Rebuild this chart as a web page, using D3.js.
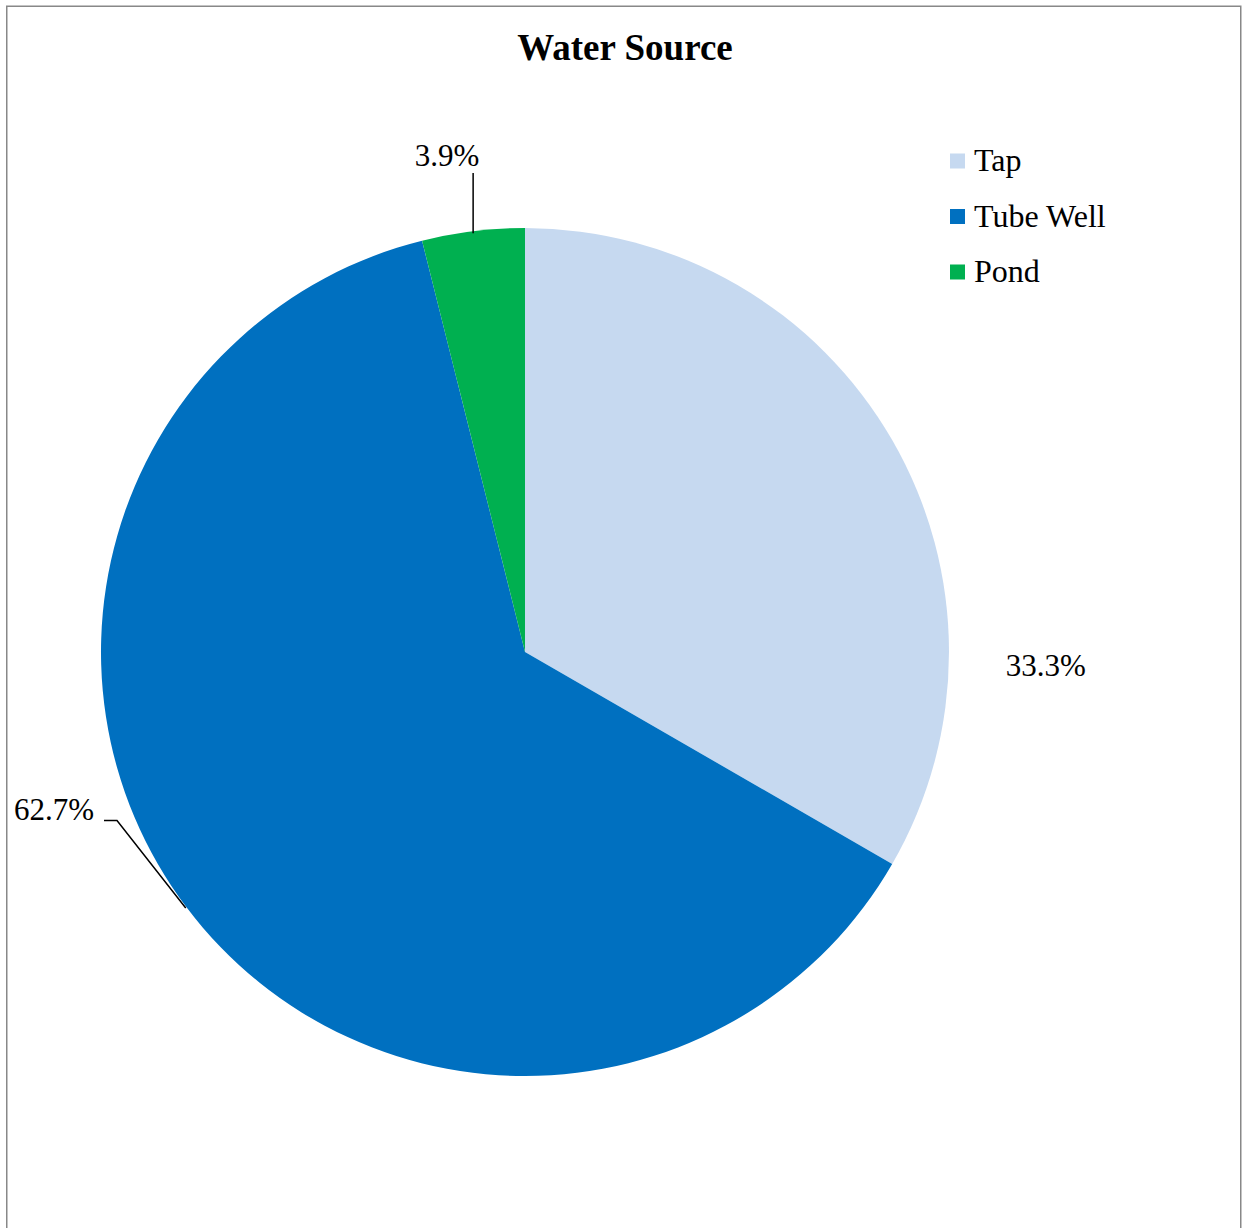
<!DOCTYPE html>
<html>
<head>
<meta charset="utf-8">
<script src="https://cdn.jsdelivr.net/npm/d3@7"></script>
<style>
  html, body { margin: 0; padding: 0; background: #fff; }
  svg { display: block; }
  text { font-family: "Liberation Serif", "Times New Roman", serif; fill: #000; }
</style>
</head>
<body>
<script>
// Water source shares (percent)
const categories = ["Tap", "Tube Well", "Pond"];
const shares = [33.3, 62.7, 3.9];
const colors = ["#c6d9f0", "#0070c0", "#00b050"];
const labels = ["33.3%", "62.7%", "3.9%"];

const W = 1248, H = 1228;
const cx = 525, cy = 652, R = 424;

const svg = d3.select("body").append("svg")
  .attr("width", W).attr("height", H);

// chart frame
svg.append("rect")
  .attr("x", 6.75).attr("y", 6.25)
  .attr("width", 1234).attr("height", 1240)
  .attr("fill", "#fff")
  .attr("stroke", "#888").attr("stroke-width", 1.5);

svg.append("text")
  .attr("x", 625).attr("y", 60)
  .attr("text-anchor", "middle")
  .style("font-size", "37px").style("font-weight", "bold")
  .text("Water Source");

const pie = d3.pie().sort(null).value(d => d);
const arcs = pie(shares);
const arc = d3.arc().innerRadius(0).outerRadius(R);

const g = svg.append("g").attr("transform", `translate(${cx},${cy})`);
g.selectAll("path").data(arcs).join("path")
  .attr("d", arc)
  .attr("fill", (d, i) => colors[i]);

// point on the rim at a given angle (clockwise from 12 o'clock)
const rim = (a, r) => [r * Math.sin(a), -r * Math.cos(a)];

const labelSize = "31px";

// Tap label: plain, outside the right edge of the slice
{
  const [x, y] = rim(Math.PI / 2 + 0.025, R + 97);
  g.append("text").attr("x", x).attr("y", y + 11)
    .attr("text-anchor", "middle").style("font-size", labelSize)
    .text(labels[0]);
}

// Tube Well label with a bent leader line
{
  const [ex, ey] = rim(4.066, R + 1);
  const p = [[ex, ey], [-408, 168.5], [-421, 168.5]];
  g.append("path")
    .attr("d", d3.line()(p))
    .attr("fill", "none").attr("stroke", "#000").attr("stroke-width", 1.5);
  g.append("text").attr("x", -431).attr("y", 168)
    .attr("text-anchor", "end").style("font-size", labelSize)
    .text(labels[1]);
}

// Pond label with a vertical leader line
{
  const a = (arcs[2].startAngle + arcs[2].endAngle) / 2;
  const [ex, ey] = rim(a, R);
  g.append("line")
    .attr("x1", ex).attr("y1", ey + 2)
    .attr("x2", ex).attr("y2", -479)
    .attr("stroke", "#000").attr("stroke-width", 1.5);
  g.append("text").attr("x", ex - 26).attr("y", -486)
    .attr("text-anchor", "middle").style("font-size", labelSize)
    .text(labels[2]);
}

// legend
const lg = svg.append("g").attr("transform", "translate(950,161)");
const items = lg.selectAll("g").data(categories).join("g")
  .attr("transform", (d, i) => `translate(0,${i * 55.5})`);
items.append("rect")
  .attr("x", 0).attr("y", -7.5).attr("width", 15).attr("height", 15)
  .attr("fill", (d, i) => colors[i]);
items.append("text")
  .attr("x", 24).attr("y", 10)
  .style("font-size", "32px")
  .text(d => d);
</script>
</body>
</html>
